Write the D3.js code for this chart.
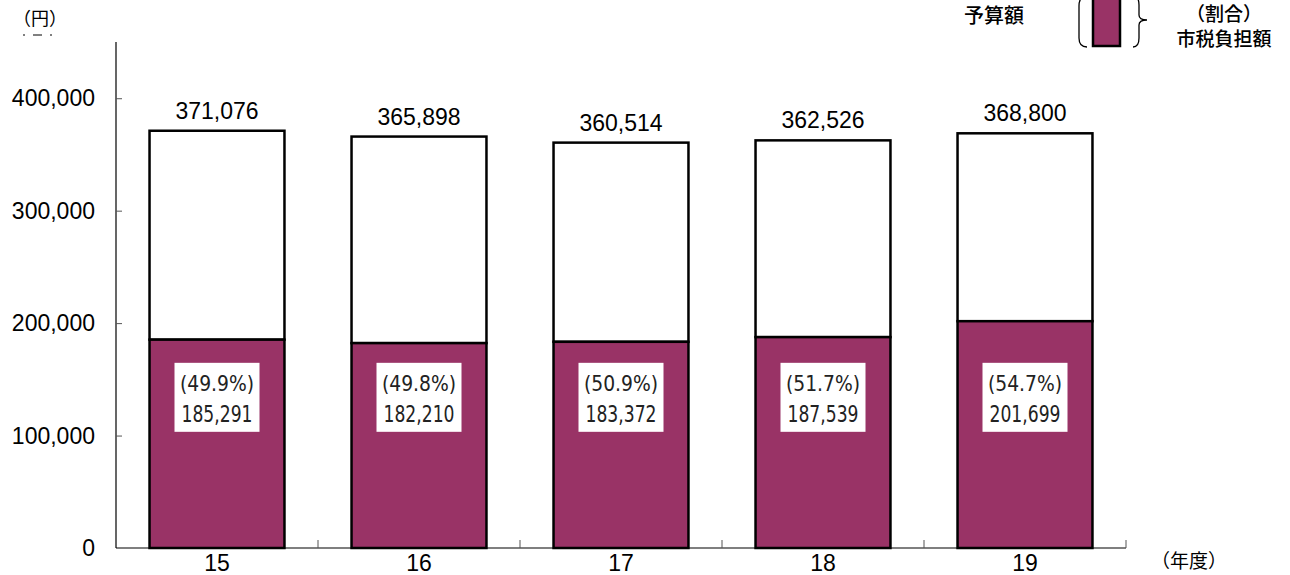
<!DOCTYPE html>
<html>
<head>
<meta charset="utf-8">
<script src="https://cdn.jsdelivr.net/npm/d3@7"></script>
<style>
  body { margin: 0; background: #fff; }
  svg { display: block; }
</style>
</head>
<body>
<svg id="chart" width="1290" height="575"></svg>
<script>
// Fiscal years (平成) and budget figures, in yen per resident
const years = ["15", "16", "17", "18", "19"];
const budgetTotals = [371076, 365898, 360514, 362526, 368800];
const taxBurden = [185291, 182210, 183372, 187539, 201699];
const taxShares = ["49.9%", "49.8%", "50.9%", "51.7%", "54.7%"];
const yTicks = [0, 100000, 200000, 300000, 400000];

const svg = d3.select("#chart");
const purple = "#993366";
const sans = "Arial, 'Liberation Sans', sans-serif";
const narrow = "'Liberation Sans Narrow', 'DejaVu Sans Condensed', sans-serif";
const cjk = "'Noto Sans CJK JP', sans-serif";

const plotLeft = 116, plotRight = 1126, plotTop = 42, plotBottom = 548;

const x = d3.scaleBand().domain(years).range([plotLeft, plotRight]).paddingInner(0.332).paddingOuter(0.166);
const y = d3.scaleLinear().domain([0, 450000]).range([plotBottom, plotTop]);

// Y axis: line plus inward ticks
const yAxis = svg.append("g").attr("transform", `translate(${plotLeft},0)`)
  .call(d3.axisRight(y).tickValues(yTicks.slice(1)).tickSize(6).tickFormat(""));
yAxis.select(".domain").attr("stroke", "#000").attr("stroke-width", 1.2).attr("d", `M0,${plotTop}V${plotBottom}`);
yAxis.selectAll(".tick line").attr("stroke", "#555").attr("stroke-width", 1);

svg.append("g").selectAll("text").data(yTicks).join("text")
  .attr("x", 95).attr("y", d => y(d) + 8)
  .attr("text-anchor", "end")
  .attr("font-family", sans).attr("font-size", 23).attr("fill", "#000")
  .text(d => d3.format(",")(d));

// X axis baseline with upward ticks between categories
const bandStep = x.step();
const xBounds = years.map((d, i) => plotLeft + bandStep * (i + 1));
svg.append("line").attr("x1", plotLeft).attr("x2", plotRight).attr("y1", plotBottom).attr("y2", plotBottom)
  .attr("stroke", "#000").attr("stroke-width", 1.2);
svg.append("g").selectAll("line").data(xBounds).join("line")
  .attr("x1", d => d).attr("x2", d => d).attr("y1", plotBottom).attr("y2", plotBottom - 8)
  .attr("stroke", "#555").attr("stroke-width", 1);

svg.append("g").selectAll("text").data(years).join("text")
  .attr("x", d => x(d) + x.bandwidth() / 2).attr("y", plotBottom + 23)
  .attr("text-anchor", "middle")
  .attr("font-family", sans).attr("font-size", 23).attr("fill", "#000")
  .text(d => d);

// Stacked bars: tax burden (bottom) and remainder of budget (top)
const bars = svg.append("g").selectAll("g").data(years).join("g");
bars.append("rect")
  .attr("x", d => x(d)).attr("width", x.bandwidth())
  .attr("y", (d, i) => y(budgetTotals[i]))
  .attr("height", (d, i) => y(taxBurden[i]) - y(budgetTotals[i]))
  .attr("fill", "#fff").attr("stroke", "#000").attr("stroke-width", 2.5);
bars.append("rect")
  .attr("x", d => x(d)).attr("width", x.bandwidth())
  .attr("y", (d, i) => y(taxBurden[i]))
  .attr("height", (d, i) => y(0) - y(taxBurden[i]))
  .attr("fill", purple).attr("stroke", "#000").attr("stroke-width", 2.5);

// Budget totals above bars
bars.append("text")
  .attr("x", d => x(d) + x.bandwidth() / 2).attr("y", (d, i) => y(budgetTotals[i]) - 12)
  .attr("text-anchor", "middle")
  .attr("font-family", sans).attr("font-size", 23).attr("fill", "#000")
  .text((d, i) => d3.format(",")(budgetTotals[i]));

// Share and tax burden inside white boxes (condensed lettering)
const boxW = 85, boxH = 69;
const boxCy = y(134000);
bars.append("rect")
  .attr("x", d => x(d) + x.bandwidth() / 2 - boxW / 2)
  .attr("y", boxCy - boxH / 2)
  .attr("width", boxW).attr("height", boxH)
  .attr("fill", "#fff");
bars.append("text")
  .attr("x", d => x(d) + x.bandwidth() / 2).attr("y", boxCy - 6)
  .attr("text-anchor", "middle")
  .attr("font-family", narrow).attr("font-size", 22).attr("fill", "#222")
  .attr("textLength", 74).attr("lengthAdjust", "spacingAndGlyphs")
  .text((d, i) => `(${taxShares[i]})`);
bars.append("text")
  .attr("x", d => x(d) + x.bandwidth() / 2).attr("y", boxCy + 25)
  .attr("text-anchor", "middle")
  .attr("font-family", narrow).attr("font-size", 23).attr("fill", "#222")
  .attr("textLength", 71).attr("lengthAdjust", "spacingAndGlyphs")
  .text((d, i) => d3.format(",")(taxBurden[i]));

// Unit labels
svg.append("text").attr("x", 13).attr("y", 25)
  .attr("font-family", cjk).attr("font-size", 18).attr("fill", "#000").text("（円）");
svg.append("g").selectAll("line").data([[23, 25], [33, 42], [50, 52]]).join("line")
  .attr("x1", d => d[0]).attr("x2", d => d[1]).attr("y1", 35).attr("y2", 35)
  .attr("stroke", "#000").attr("stroke-width", 1);
svg.append("text").attr("x", 1151).attr("y", 568)
  .attr("font-family", cjk).attr("font-size", 19).attr("fill", "#000").text("（年度）");

// Legend
const legend = svg.append("g");
legend.append("text").attr("x", 964).attr("y", 23)
  .attr("font-family", cjk).attr("font-size", 20).attr("font-weight", 500).attr("fill", "#000").text("予算額");
legend.append("rect").attr("x", 1093).attr("y", -10).attr("width", 27).attr("height", 56)
  .attr("fill", purple).attr("stroke", "#000").attr("stroke-width", 2.5);
legend.append("path")
  .attr("d", "M1087,-4 Q1079,-4 1079,6 L1079,38 Q1079,47 1087,47")
  .attr("fill", "none").attr("stroke", "#000").attr("stroke-width", 1.3);
legend.append("path")
  .attr("d", "M1133,-4 Q1139,-4 1139,5 L1139,15 Q1139,20 1147,20 Q1139,20 1139,25 L1139,38 Q1139,47 1133,47")
  .attr("fill", "none").attr("stroke", "#000").attr("stroke-width", 1.3);
legend.append("text").attr("x", 1224).attr("y", 21).attr("text-anchor", "middle")
  .attr("font-family", cjk).attr("font-size", 19).attr("font-weight", 500).attr("fill", "#000").text("（割合）");
legend.append("text").attr("x", 1224).attr("y", 46).attr("text-anchor", "middle")
  .attr("font-family", cjk).attr("font-size", 19).attr("font-weight", 500).attr("fill", "#000").text("市税負担額");
</script>
</body>
</html>
